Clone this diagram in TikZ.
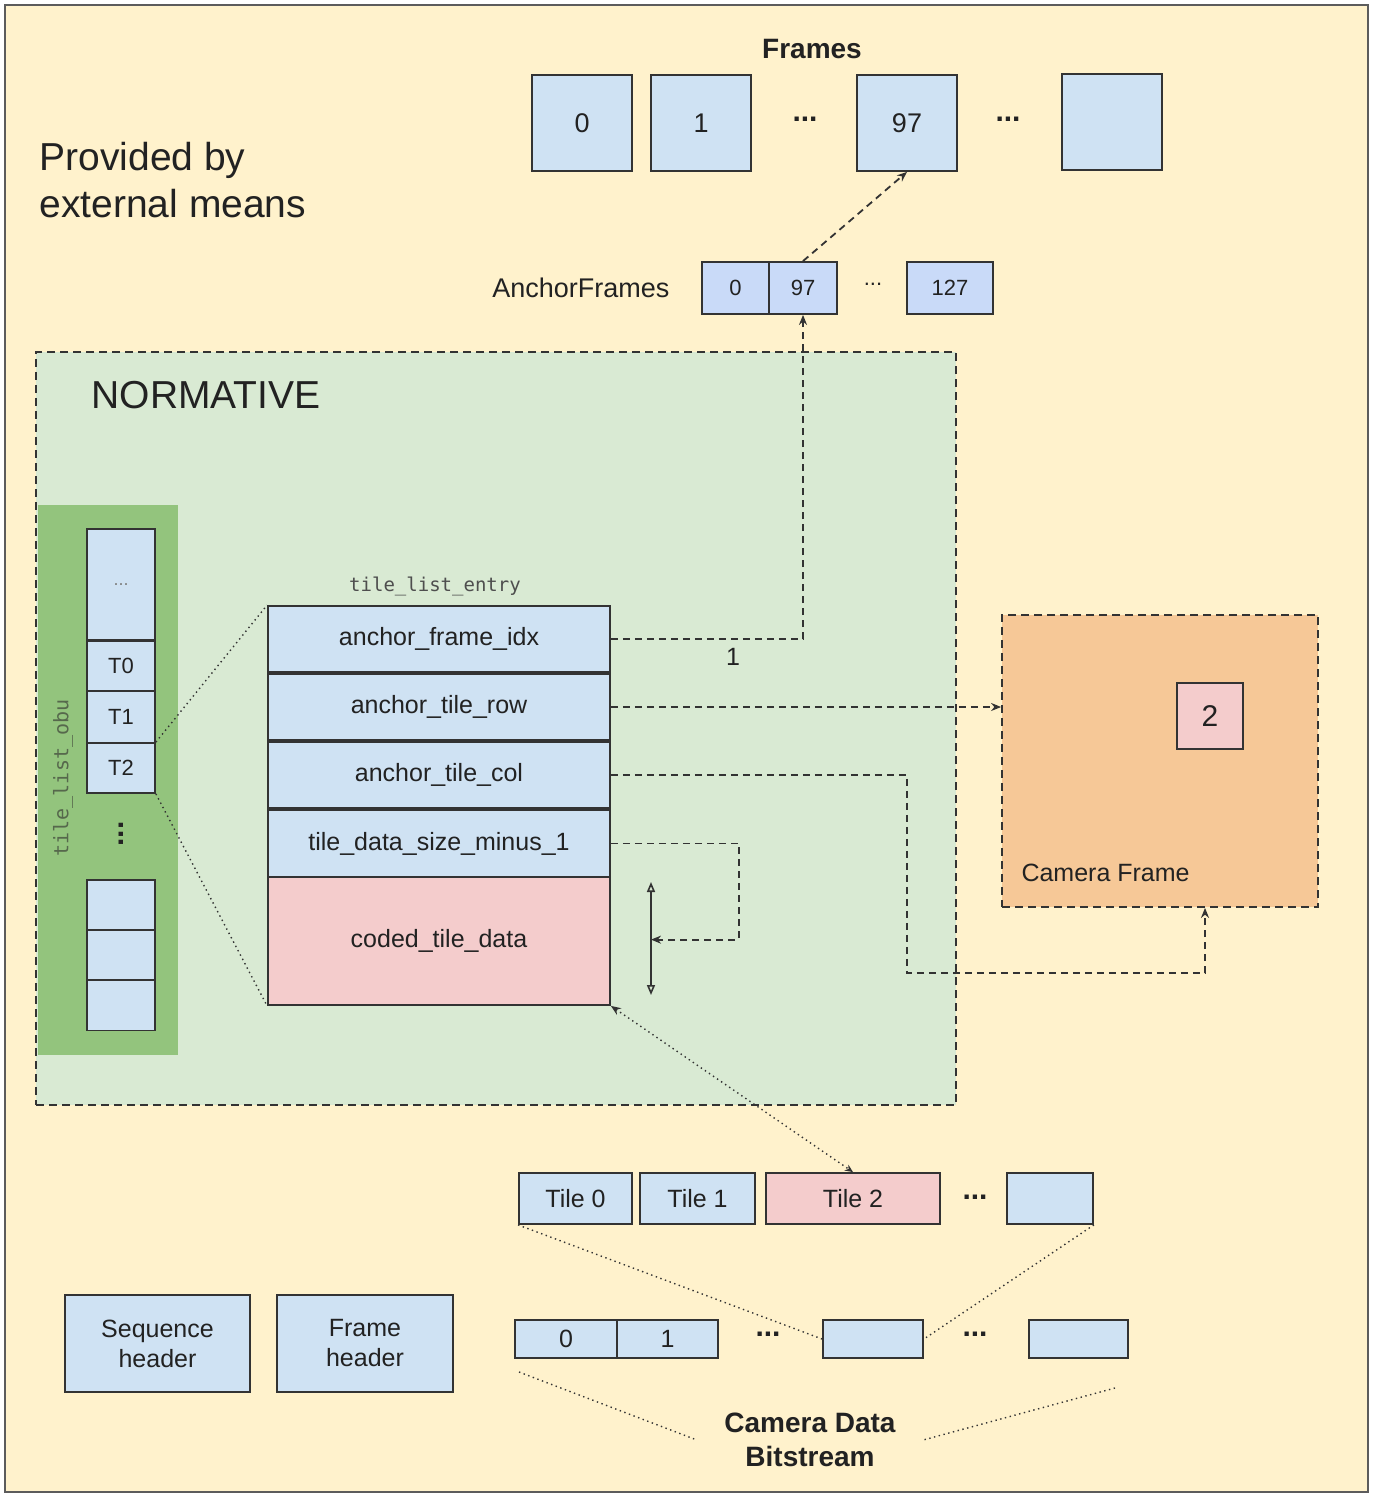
\documentclass[tikz,border=0pt]{standalone}
\usepackage{fontspec}
\setmainfont{Liberation Sans}
\setmonofont{DejaVu Sans Mono}
\usetikzlibrary{arrows.meta,calc}

\definecolor{bgyellow}{HTML}{FFF2CC}
\definecolor{boxblue}{HTML}{CFE2F3}
\definecolor{anchblue}{HTML}{C9DAF8}
\definecolor{tilepink}{HTML}{F4CCCC}
\definecolor{normgreen}{HTML}{D9EAD3}
\definecolor{obugreen}{HTML}{93C47D}
\definecolor{camorange}{HTML}{F6C897}
\definecolor{linegray}{HTML}{333333}
\definecolor{textgray}{HTML}{222222}
\definecolor{obutext}{HTML}{56684C}

\begin{document}
\begin{tikzpicture}[x=1pt,y=-1pt,
	blk/.style={draw=linegray,line width=1.8pt,fill=boxblue,inner sep=0pt,text=textgray},
	region/.style={draw=linegray,line width=1.8pt,dash pattern=on 8pt off 5pt,inner sep=0pt},
	dep/.style={draw=linegray,line width=1.8pt,dash pattern=on 7pt off 5pt,-{Stealth[length=10pt,width=8pt]}},
	link/.style={draw=linegray,line width=1.4pt,dash pattern=on 1.4pt off 3.5pt},
	f22/.style={font=\fontsize{22}{26}\selectfont,text=textgray},
	f25/.style={font=\fontsize{25}{30}\selectfont,text=textgray},
	f27/.style={font=\fontsize{27}{32}\selectfont,text=textgray},
	f39/.style={font=\fontsize{39}{47}\selectfont,text=textgray},
	bold28/.style={font=\fontsize{28}{34}\selectfont\bfseries,text=textgray},
	dots/.style={font=\fontsize{30}{34}\selectfont\bfseries,text=textgray}]
	\useasboundingbox (0,0) rectangle (1372,1495);
	\draw[draw=linegray!80,line width=1.5pt,fill=bgyellow] (5,5) rectangle (1368,1492);

	\node[bold28] (frames) at (812,49) {Frames};
	\node[blk,minimum width=100pt,minimum height=96pt,f27] (f0) at (582,123) {0};
	\node[blk,minimum width=100pt,minimum height=96pt,f27] (f1) at (701,123) {1};
	\node[dots] (fd1) at (805,119) {...};
	\node[blk,minimum width=100pt,minimum height=96pt,f27] (f97) at (907,123) {97};
	\node[dots] (fd2) at (1008,119) {...};
	\node[blk,minimum width=100pt,minimum height=96pt] (fn) at (1112,122) {};
	\node[f39,align=left,anchor=west] (ext) at (36,180) {Provided by\\external means};

	\node[f27,anchor=east] (anch) at (673,288) {AnchorFrames};
	\node[blk,fill=anchblue,minimum width=67pt,minimum height=52pt,f22] (af0) at (735.5,288) {0};
	\node[blk,fill=anchblue,minimum width=68pt,minimum height=52pt,f22] (af97) at (803,288) {97};
	\node[f22] (afd) at (873,284) {...};
	\node[blk,fill=anchblue,minimum width=86pt,minimum height=52pt,f22] (af127) at (950,288) {127};

	\node[region,fill=normgreen,minimum width=920pt,minimum height=753pt] (norm) at (496,728.5) {};
	\node[f39,anchor=west] (normlbl) at (88,395) {NORMATIVE};

	\node[fill=obugreen,inner sep=0pt,minimum width=140pt,minimum height=550pt] (obu) at (108,780) {};
	\node[rotate=90,font=\fontsize{20}{24}\selectfont\ttfamily,text=obutext] (obulbl) at (63,778) {tile\_list\_obu};
	\node[blk,minimum width=68pt,minimum height=111pt,font=\fontsize{18}{20}\selectfont,text=gray] (tdots) at (121,584.5) {...};
	\node[blk,minimum width=68pt,minimum height=50pt,f22] (T0) at (121,666) {T0};
	\node[blk,minimum width=68pt,minimum height=52pt,f22] (T1) at (121,717) {T1};
	\node[blk,minimum width=68pt,minimum height=50pt,f22] (T2) at (121,768) {T2};
	\node[dots,rotate=90] (vd) at (121,834) {...};
	\foreach \i/\y in {1/905,2/955,3/1005.5}
		\node[blk,minimum width=68pt,minimum height=50pt] (ob\i) at (121,\y) {};

	\node[font=\fontsize{19}{22}\selectfont\ttfamily,text=textgray!80] (tle) at (435,586) {tile\_list\_entry};
	\node[blk,minimum width=342pt,minimum height=66pt,f25] (afidx) at (439,639) {\raisebox{-3pt}{anchor\_frame\_idx}};
	\node[blk,minimum width=342pt,minimum height=66pt,f25] (atrow) at (439,707) {\raisebox{-3pt}{anchor\_tile\_row}};
	\node[blk,minimum width=342pt,minimum height=66pt,f25] (atcol) at (439,775) {\raisebox{-3pt}{anchor\_tile\_col}};
	\node[blk,minimum width=342pt,minimum height=67pt,f25] (tdsize) at (439,843.5) {tile\_data\_size\_minus\_1};
	\node[blk,fill=tilepink,minimum width=342pt,minimum height=128pt,f25] (coded) at (439,941) {\raisebox{-3pt}{coded\_tile\_data}};
	\coordinate (vtop) at (651,882);
	\coordinate (vbot) at (651,995);
	\draw[line width=1.6pt,draw=linegray,{Triangle[open,length=10pt,width=8pt]}-{Triangle[open,length=10pt,width=8pt]}] (vtop) -- (vbot);

	\node[region,fill=camorange,minimum width=316pt,minimum height=292pt] (cam) at (1160,761) {};
	\node[blk,fill=tilepink,minimum width=66pt,minimum height=66pt,font=\fontsize{30}{34}\selectfont] (c2) at (1210,716) {2};
	\node[f25,anchor=west] (camlbl) at (1018,873) {Camera Frame};

	\node[blk,minimum width=113pt,minimum height=51pt,f25] (tile0) at (575.5,1198.5) {Tile 0};
	\node[blk,minimum width=115pt,minimum height=51pt,f25] (tile1) at (697.5,1198.5) {Tile 1};
	\node[blk,fill=tilepink,minimum width=174pt,minimum height=51pt,f25] (tile2) at (853,1198.5) {Tile 2};
	\node[dots] (td) at (975,1197) {...};
	\node[blk,minimum width=86pt,minimum height=51pt] (tilen) at (1050,1198.5) {};

	\node[blk,minimum width=102pt,minimum height=38pt,f25] (bs0) at (566,1339) {0};
	\node[blk,minimum width=101pt,minimum height=38pt,f25] (bs1) at (667.5,1339) {1};
	\node[dots] (bsd1) at (768,1334) {...};
	\node[blk,minimum width=100pt,minimum height=38pt] (bsm) at (873,1339) {};
	\node[dots] (bsd2) at (975,1334) {...};
	\node[blk,minimum width=99pt,minimum height=38pt] (bsn) at (1078.5,1339) {};

	\node[blk,minimum width=185pt,minimum height=97pt,f25,align=center] (seqh) at (157.5,1343.5) {Sequence\\header};
	\node[blk,minimum width=176pt,minimum height=97pt,f25,align=center] (frmh) at (365,1343.5) {Frame\\header};
	\node[bold28,align=center] (cdb) at (810,1440) {Camera Data\\Bitstream};

	\draw[dep] (afidx.east) -| (af97.south);
	\node[f25] (one) at (733,657) {1};
	\draw[dep] (af97.north) -- (f97.south);
	\draw[dep] (atrow.east) -- (atrow.east -| cam.west);
	\draw[dep] (atcol.east) -| (907,973) -| ([xshift=45pt]cam.south);
	\draw[dep] (tdsize.east) -| ($(vtop)!0.51!(vbot)+(88,0)$) -- ($(vtop)!0.51!(vbot)$);

	\draw[link] (T2.north east) -- (afidx.north west);
	\draw[link] (T2.south east) -- (coded.south west);
	\draw[link,{Stealth[length=10pt,width=8pt]}-{Stealth[length=8pt,width=7pt]}] (coded.south east) -- (tile2.north);
	\draw[link] (tile0.south west) -- (bsm.west);
	\draw[link] (tilen.south east) -- (bsm.east);
	\coordinate (bl) at (519,1372);
	\coordinate (br) at (1115,1388);
	\draw[link] (bl) -- ([xshift=-24pt]cdb.west);
	\draw[link] (br) -- ([xshift=24pt]cdb.east);
\end{tikzpicture}
\end{document}
